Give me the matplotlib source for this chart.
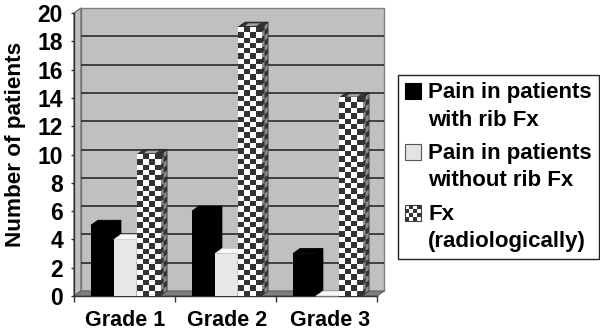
import matplotlib
matplotlib.use("Agg")
import matplotlib.pyplot as plt
import numpy as np
from matplotlib.patches import Polygon, Rectangle
from matplotlib.legend_handler import HandlerBase

plt.rcParams['font.family'] = ['Liberation Sans', 'DejaVu Sans']
plt.rcParams['font.weight'] = 'bold'

categories = ["Grade 1", "Grade 2", "Grade 3"]
pain_with_fx = [5, 6, 3]
pain_without_fx = [4, 3, 0]
fx_radiological = [10, 19, 14]
y_ticks = list(range(0, 21, 2))
series_labels = ["Pain in patients\nwith rib Fx", "Pain in patients\nwithout rib Fx", "Fx\n(radiologically)"]

W, H = 600, 332
fig = plt.figure(figsize=(W/100, H/100), dpi=100, facecolor='white')
L, R, B, T = 74, 377, 296, 13
ax = fig.add_axes([L/W, 1-B/H, (R-L)/W, (B-T)/H])
ax.set_xlim(0, 3); ax.set_ylim(0, 20)
ax.patch.set_visible(False)
for s in ax.spines.values():
    s.set_visible(False)

px_x = 3/(R-L); px_y = 20/(B-T)
DX, DY = 7*px_x, 5*px_y
WALL, FLOOR, EDGE = '#c0c0c0', '#7f7f7f', '#404040'

ax.add_patch(Polygon([(DX, DY), (3+DX, DY), (3+DX, 20+DY), (DX, 20+DY)], fc=WALL, ec='#808080', lw=1, clip_on=False, zorder=1))
ax.add_patch(Polygon([(0, 0), (DX, DY), (DX, 20+DY), (0, 20)], fc=WALL, ec='#707070', lw=1, clip_on=False, zorder=1))
ax.add_patch(Polygon([(0, 0), (3, 0), (3+DX, DY), (DX, DY)], fc=FLOOR, ec='#606060', lw=0.8, clip_on=False, zorder=1))
for v in y_ticks[1:-1]:
    ax.plot([DX, 3+DX], [v+DY, v+DY], color='#2a2a2a', lw=1.2, zorder=2, clip_on=False, solid_capstyle='butt')

x = np.arange(3)
bw = 0.228
start = 0.168

def draw_top(b, top, ec, zorder):
    x0, w, h = b.get_x(), b.get_width(), b.get_height()
    ax.add_patch(Polygon([(x0, h), (x0+w, h), (x0+w+DX, h+DY), (x0+DX, h+DY)], fc=top, ec=ec, lw=0.6, zorder=zorder, clip_on=False))

def draw_side(b, side, ec, zorder):
    x0, w, h = b.get_x(), b.get_width(), b.get_height()
    ax.add_patch(Polygon([(x0+w, 0), (x0+w+DX, DY), (x0+w+DX, h+DY), (x0+w, h)], fc=side, ec=ec, lw=0.5, zorder=zorder, clip_on=False))

b1 = ax.bar(x+start, pain_with_fx, bw, align='edge', color='black', zorder=3, label=series_labels[0])
for b in b1:
    draw_top(b, 'black', 'black', 3); draw_side(b, 'black', 'black', 3)

b2 = ax.bar(x+start+bw, pain_without_fx, bw*0.97, align='edge', color='#e8e8e8', zorder=4, label=series_labels[1])
for b in b2:
    draw_side(b, '#d8d8d8', 'none', 4); draw_top(b, '#f8f8f8', '#cccccc', 4)

b3 = ax.bar(x+start+2*bw, fx_radiological, bw, align='edge', color='white', edgecolor='#303030', lw=0.5, zorder=5, label=series_labels[2])
CELL = 5.3
for b in b3:
    x0, w, h = b.get_x(), b.get_width(), b.get_height()
    draw_side(b, '#8a8a8a', '#222222', 5)
    draw_top(b, '#333333', '#222222', 5)
    ax.add_patch(Polygon([(x0+w*0.3, h+DY*0.25), (x0+w*0.8, h+DY*0.25), (x0+w*0.8+DX*0.5, h+DY*0.75), (x0+w*0.3+DX*0.5, h+DY*0.75)],
                         fc='#a5a5a5', ec='none', zorder=5.2, clip_on=False))
    nx = int(round(w/px_x/CELL)); ny = int(round(h/px_y/CELL))
    chk = np.indices((ny, nx)).sum(axis=0) % 2
    ax.imshow(chk, cmap='gray_r', vmin=0, vmax=1.25, origin='upper', extent=(x0, x0+w, 0, h),
              aspect='auto', interpolation='nearest', zorder=5.5, clip_on=False)
    for j in range(ny):
        y0 = j*h/ny; y1 = (j+1)*h/ny
        for k in range(2):
            if (j+k) % 2 == 0:
                f0, f1 = k/2, (k+1)/2
                ax.add_patch(Polygon([(x0+w+f0*DX, y0+f0*DY), (x0+w+f1*DX, y0+f1*DY), (x0+w+f1*DX, y1+f1*DY), (x0+w+f0*DX, y1+f0*DY)],
                                     fc='#333333', ec='none', zorder=5.3, clip_on=False))
ax.set_xlim(0, 3); ax.set_ylim(0, 20)

ax.set_xticks([0, 1, 2, 3])
ax.set_xticklabels([])
ax.set_xticks([0.505, 1.52, 2.54], minor=True)
ax.set_xticklabels(categories, minor=True, fontsize=15.5, fontweight='bold')
ax.tick_params(axis='x', which='minor', length=0, pad=10)
ax.tick_params(axis='x', which='major', length=4, width=1, color='#333333')
ax.set_yticks(y_ticks)
ax.set_yticklabels([str(t) for t in y_ticks], fontsize=16.5, fontweight='bold')
ax.tick_params(axis='y', length=2, width=1, color='#333333', pad=6)
ax.plot([0, 3], [0, 0], color='#333333', lw=1, clip_on=False, zorder=2)
ax.plot([0, 0], [0, 20], color='#333333', lw=1, clip_on=False, zorder=2)
ax.set_ylabel("Number of patients", fontsize=16.2, fontweight='bold', labelpad=8)
ax.yaxis.label.set_y(0.534)

SHIFT = 11.0
class SwatchHandler(HandlerBase):
    def __init__(self, kind):
        super().__init__(); self.kind = kind
    def create_artists(self, legend, orig, xd, yd, w, h, fontsize, trans):
        x0, y0 = -xd, -yd + SHIFT
        if self.kind == 'black':
            return [Rectangle((x0, y0), w, h, fc='black', ec='black', lw=0.8, transform=trans)]
        if self.kind == 'light':
            return [Rectangle((x0, y0), w, h, fc='#e3e3e3', ec='#555555', lw=0.8, transform=trans)]
        n = 4; cw = w/n; ch = h/n
        out = [Rectangle((x0, y0), w, h, fc='white', ec='#404040', lw=0.8, transform=trans)]
        for i in range(n):
            for j in range(n):
                if (i+j) % 2 == 0:
                    out.append(Rectangle((x0+i*cw, y0+j*ch), cw, ch, fc='#333333', ec='none', transform=trans))
        return out

leg = fig.legend(handles=[b1, b2, b3], labels=series_labels,
                 handler_map={b1: SwatchHandler('black'), b2: SwatchHandler('light'), b3: SwatchHandler('check')},
                 loc='upper left', bbox_to_anchor=(398/W, 1-75/H), bbox_transform=fig.transFigure,
                 fontsize=16, frameon=True, fancybox=False, framealpha=1, edgecolor='#222222',
                 handlelength=0.72, handleheight=0.72, handletextpad=0.32, labelspacing=0.56, borderpad=0.32, borderaxespad=0, labelcolor='black')
leg.get_frame().set_linewidth(1)
for t in leg.get_texts():
    t.set_linespacing(1.4)

fig.savefig("out.png", dpi=100)
